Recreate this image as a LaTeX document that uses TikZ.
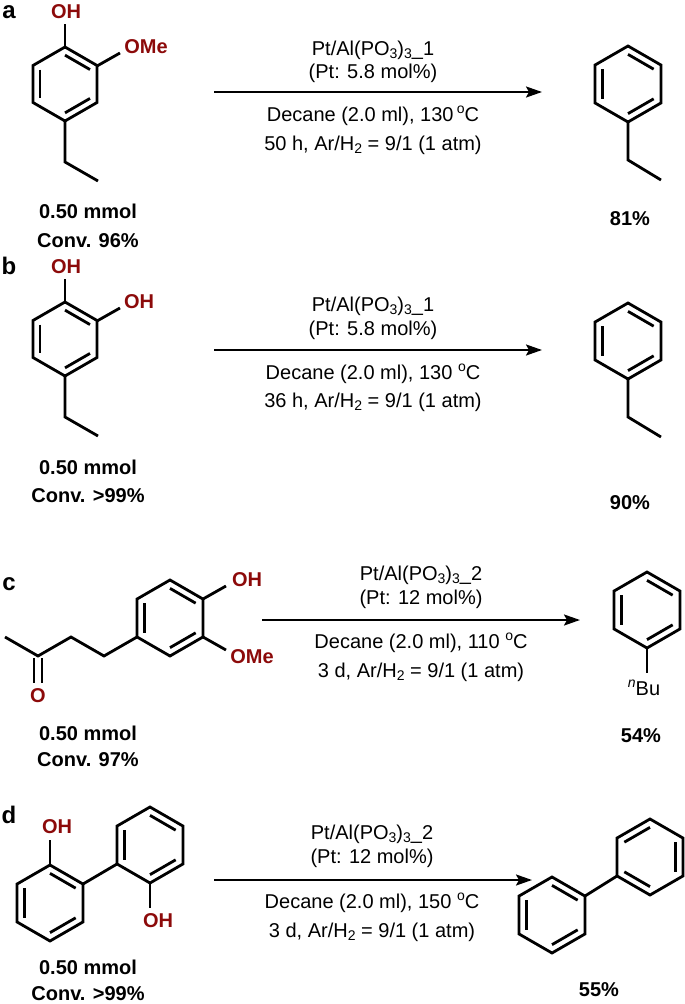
\documentclass[tikz,border=0pt]{standalone}
\usepackage{fontspec}
\setmainfont{Liberation Sans}
\usetikzlibrary{arrows.meta}
\definecolor{hetred}{RGB}{140,10,10}
\newcommand\sbs[1]{\raisebox{-0.35ex}{\fontsize{14}{14}\selectfont #1}}
\newcommand\sps[1]{\raisebox{0.75ex}{\fontsize{14}{14}\selectfont #1}}
\newcommand\ring[4]{%
 \draw[bond] ({#1+#3*cos(90)},{#2-#3*sin(90)}) \foreach \k in {1,...,5}{ -- ({#1+#3*cos(90+60*\k)},{#2-#3*sin(90+60*\k)})} -- cycle;
 \foreach \k in {#4}{\draw[bond] ({#1+0.78*#3*cos(90+60*\k)},{#2-0.78*#3*sin(90+60*\k)}) -- ({#1+0.78*#3*cos(150+60*\k)},{#2-0.78*#3*sin(150+60*\k)});}}
\begin{document}
\begin{tikzpicture}[x=1pt,y=-1pt,
 bond/.style={line width=2.8pt,line join=miter},
 rxn/.style={line width=2.2pt,-{Stealth[length=16pt,width=11pt,inset=3pt]}},
 cond/.style={font=\fontsize{20}{22}\selectfont,inner sep=0pt},
 lab/.style={font=\fontsize{20}{22}\selectfont\bfseries,inner sep=0pt},
 het/.style={font=\fontsize{20}{22}\selectfont\bfseries,text=hetred,inner sep=0pt},
 tag/.style={font=\fontsize{24}{26}\selectfont\bfseries,inner sep=0pt}]
\useasboundingbox (0,0) rectangle (685,1004);
% ---------- a ----------
\node[tag] (ta) at (9,12) {a};
\ring{65}{84}{37}{1,3,5}
\draw[bond] (65,47) -- (65,24);
\node[het] (oha) at (66,12) {OH};
\draw[bond] (97,66) -- (120,53);
\node[het] (omea) at (146,47) {OMe};
\draw[bond] (65,121) -- (65,162) -- (98,181);
\node[lab] (ma) at (88,211) {0.50 mmol};
\node[lab] (ca) at (88,241) {Conv. 96\%};
\coordinate (a1) at (214,92); \coordinate (a2) at (542,92);
\draw[rxn] (a1) -- (a2);
\node[cond] (ca1) at (373,50) {Pt/Al(PO\sbs{3})\sbs{3}\_1};
\node[cond] (ca2) at (373,73) {(Pt: 5.8 mol\%)};
\node[cond] (ca3) at (373,116) {Decane (2.0 ml), 130\,\sps{o}C};
\node[cond] (ca4) at (373,145) {50 h, Ar/H\sbs{2} = 9/1 (1 atm)};
\ring{628}{84}{38}{1,3,5}
\draw[bond] (628,122) -- (628,160) -- (661,180);
\node[lab] (ya) at (630,219) {81\%};
% ---------- b ----------
\node[tag] (tb) at (9,266) {b};
\ring{65}{339}{37}{1,3,5}
\draw[bond] (65,302) -- (65,279);
\node[het] (ohb1) at (66,267) {OH};
\draw[bond] (97,321) -- (120,308);
\node[het] (ohb2) at (139,302) {OH};
\draw[bond] (65,376) -- (65,417) -- (98,436);
\node[lab] (mb) at (88,467) {0.50 mmol};
\node[lab] (cb) at (88,496) {Conv. >99\%};
\coordinate (b1) at (214,350); \coordinate (b2) at (542,350);
\draw[rxn] (b1) -- (b2);
\node[cond] (cb1) at (373,306) {Pt/Al(PO\sbs{3})\sbs{3}\_1};
\node[cond] (cb2) at (373,330) {(Pt: 5.8 mol\%)};
\node[cond] (cb3) at (373,374) {Decane (2.0 ml), 130 \sps{o}C};
\node[cond] (cb4) at (373,402) {36 h, Ar/H\sbs{2} = 9/1 (1 atm)};
\ring{628}{341}{38}{1,3,5}
\draw[bond] (628,379) -- (628,417) -- (661,437);
\node[lab] (yb) at (630,503) {90\%};
% ---------- c ----------
\node[tag] (tc) at (9,584) {c};
\ring{170}{618}{38}{1,3,5}
\draw[bond] (137,637) -- (104,656) -- (71,637) -- (38,656) -- (5,637);
\draw[bond] (34,658) -- (34,683);
\draw[bond] (42,658) -- (42,683);
\node[het] (oc) at (38,696) {O};
\draw[bond] (203,599) -- (226,586);
\node[het] (ohc) at (247,580) {OH};
\draw[bond] (203,637) -- (226,650);
\node[het] (omec) at (252,657) {OMe};
\node[lab] (mc) at (88,733) {0.50 mmol};
\node[lab] (cc) at (88,760) {Conv. 97\%};
\coordinate (c1) at (262,620); \coordinate (c2) at (580,620);
\draw[rxn] (c1) -- (c2);
\node[cond] (cc1) at (421,575) {Pt/Al(PO\sbs{3})\sbs{3}\_2};
\node[cond] (cc2) at (421,599) {(Pt: 12 mol\%)};
\node[cond] (cc3) at (421,643) {Decane (2.0 ml), 110 \sps{o}C};
\node[cond] (cc4) at (421,672) {3 d, Ar/H\sbs{2} = 9/1 (1 atm)};
\ring{647}{610}{38}{1,3,5}
\draw[bond] (647,648) -- (647,673);
\node[cond] (nbu) at (644,688) {\sps{\itshape n}Bu};
\node[lab] (yc) at (641,736) {54\%};
% ---------- d ----------
\node[tag] (td) at (9,815) {d};
\ring{50}{903}{38}{1,3,5}
\ring{150}{845}{38}{1,3,5}
\draw[bond] (83,884) -- (117,864);
\draw[bond] (50,865) -- (50,840);
\node[het] (ohd1) at (57,827) {OH};
\draw[bond] (150,883) -- (150,908);
\node[het] (ohd2) at (158,921) {OH};
\node[lab] (md) at (88,967) {0.50 mmol};
\node[lab] (cd) at (88,994) {Conv. >99\%};
\coordinate (d1) at (214,880); \coordinate (d2) at (532,880);
\draw[rxn] (d1) -- (d2);
\node[cond] (cd1) at (372,834) {Pt/Al(PO\sbs{3})\sbs{3}\_2};
\node[cond] (cd2) at (372,858) {(Pt: 12 mol\%)};
\node[cond] (cd3) at (372,903) {Decane (2.0 ml), 150 \sps{o}C};
\node[cond] (cd4) at (372,932) {3 d, Ar/H\sbs{2} = 9/1 (1 atm)};
\ring{552}{915}{38}{1,3,5}
\ring{650}{857}{38}{0,2,4}
\draw[bond] (585,896) -- (617,876);
\node[lab] (yd) at (599,990) {55\%};
\end{tikzpicture}
\end{document}
